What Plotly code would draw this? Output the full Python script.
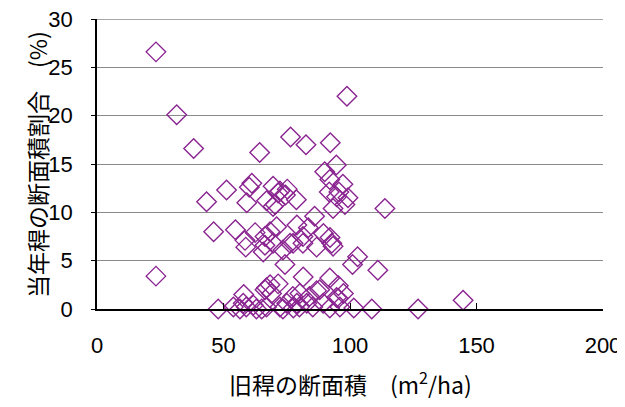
import plotly.graph_objects as go

# 旧稈の断面積 (m2/ha)
old_area = [
    23.3, 31.5, 38.2, 98.8, 64.3, 76.5, 82.6, 92.2, 94.6, 23.3, 113.8, 144.7, 126.9, 108.6, 111.0,
    43.3, 51.2, 59.2, 61.2, 60.2, 67.0, 69.6, 71.6, 72.3, 74.5, 75.2, 70.4, 69.6, 78.8, 90.0,
    92.0, 97.2, 95.6, 91.8, 99.2, 98.0, 93.3, 94.7,
    46.1, 54.7, 62.5, 58.5, 58.8, 66.4, 65.7, 66.4, 68.4, 71.0, 69.6, 73.5, 74.3, 76.3, 77.5,
    79.0, 81.4, 81.4, 83.5, 86.0, 86.8, 89.5, 92.1, 92.8, 93.3, 101.0, 103.0,
    58.0, 67.0, 68.4, 71.6, 66.4, 69.0, 81.5, 92.0, 95.4, 97.4, 94.7, 86.8, 88.0, 80.2, 77.4,
    84.0, 75.0, 72.3, 79.0, 82.9, 85.3, 89.4, 92.0, 96.0, 101.5, 77.6, 80.0, 67.0, 65.1, 61.8,
    57.8, 56.5, 53.9, 47.9, 59.0, 63.0, 73.5, 95.3,
]
# 当年稈の断面積割合 (%)
new_ratio = [
    26.6, 20.1, 16.6, 22.0, 16.2, 17.8, 17.0, 17.2, 14.9, 3.4, 10.4, 0.9, 0.0, 0.0, 4.0,
    11.1, 12.3, 11.0, 13.0, 12.6, 11.2, 12.7, 12.0, 12.2, 11.8, 12.4, 10.8, 10.6, 11.3, 14.2,
    13.4, 12.9, 12.1, 12.1, 11.5, 10.8, 10.4, 11.6,
    8.0, 8.2, 7.9, 7.1, 6.4, 6.6, 5.9, 7.5, 8.0, 8.5, 6.8, 6.1, 4.6, 6.8, 6.8,
    8.7, 7.5, 6.8, 8.4, 9.6, 6.4, 7.8, 7.4, 6.8, 6.5, 4.6, 5.4,
    1.5, 2.2, 2.5, 2.6, 2.0, 1.6, 3.3, 3.2, 2.4, 1.6, 1.2, 1.9, 2.0, 1.6, 1.3,
    1.3, 0.6, 0.2, 0.6, 0.6, 0.2, 0.6, 0.1, 0.2, 0.1, 0.1, 0.2, 0.2, 0.0, 0.4,
    0.6, 0.0, 0.2, 0.0, 0.2, 0.0, 0.0, 1.1,
]

x_ticks = [0, 50, 100, 150, 200]
y_ticks = [0, 5, 10, 15, 20, 25, 30]
x_title = "旧稈の断面積　(m<sup>2</sup>/ha)"
y_title = "当年稈の断面積割合　(%)"

fig = go.Figure()
fig.add_trace(go.Scatter(
    x=old_area, y=new_ratio, mode="markers",
    marker=dict(symbol="diamond-open", size=15, color="#8A2490",
                line=dict(width=1.4, color="#8A2490")),
    showlegend=False, cliponaxis=False,
))

tick_font = dict(family="Liberation Sans, Arial, sans-serif", size=22, color="#000")
title_font = dict(family="Noto Sans CJK JP, sans-serif", size=23, color="#000")

# top gridline at the upper end of the y range (plotly drops the edge gridline)
fig.add_shape(type="line", xref="paper", x0=0, x1=1, yref="y",
              y0=y_ticks[-1], y1=y_ticks[-1], layer="below",
              line=dict(color="#8a8a8a", width=1.6))

# page body has an 8px default margin, so the figure is shrunk by 8px
fig.update_layout(
    width=617, height=399,
    margin=dict(l=89, r=22, t=11, b=98),
    paper_bgcolor="white", plot_bgcolor="white",
    xaxis=dict(
        range=[0, 200], tickvals=x_ticks, ticktext=[str(v) for v in x_ticks],
        showgrid=False, zeroline=False, automargin=False,
        showline=True, linecolor="#000", linewidth=1.5,
        ticks="inside", ticklen=6, tickcolor="#000", tickwidth=1,
        tickfont=tick_font, ticklabelstandoff=16, ticklabeloverflow="allow",
    ),
    yaxis=dict(
        range=[0, 30], tickvals=y_ticks, ticktext=[str(v) for v in y_ticks],
        showgrid=True, gridcolor="#8a8a8a", gridwidth=1.3,
        zeroline=False, automargin=False,
        showline=True, linecolor="#000", linewidth=1.5,
        ticks="outside", ticklen=4, tickcolor="#000", tickwidth=1,
        tickfont=tick_font, ticklabelstandoff=14, ticklabeloverflow="allow",
    ),
    annotations=[
        dict(text=x_title, xref="paper", yref="paper", x=0.5, y=-0.255,
             xanchor="center", yanchor="middle", showarrow=False, font=title_font),
        dict(text=y_title, xref="paper", yref="paper", x=-0.1186, y=0.5,
             xanchor="center", yanchor="middle", textangle=-90, showarrow=False,
             font=title_font),
    ],
)

fig.write_html("out.html")
